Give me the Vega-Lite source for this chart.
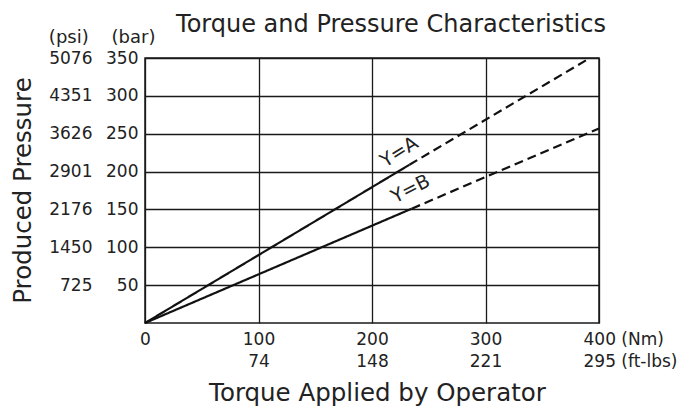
{
  "$schema": "https://vega.github.io/schema/vega-lite/v6.json",
  "autosize": "none",
  "width": 454,
  "height": 265,
  "padding": {"left": 145, "top": 58, "right": 89, "bottom": 87},
  "background": "white",
  "config": {
    "font": "DejaVu Sans",
    "view": {"stroke": "#1a1a1a", "strokeWidth": 1.5}
  },
  "title": {
    "text": "Torque and Pressure Characteristics",
    "fontSize": 24,
    "font": "DejaVu Sans",
    "fontWeight": "normal",
    "color": "#222222",
    "anchor": "middle",
    "frame": "group",
    "baseline": "alphabetic",
    "dx": 19,
    "offset": -24,
    "dy": 4
  },
  "datasets": {
    "lines": [
      {"series": "A", "segment": "measured", "torque": 0, "pressure": 0},
      {"series": "A", "segment": "measured", "torque": 233, "pressure": 209},
      {"series": "A", "segment": "extrapolated", "torque": 233, "pressure": 209},
      {"series": "A", "segment": "extrapolated", "torque": 392, "pressure": 350},
      {"series": "B", "segment": "measured", "torque": 0, "pressure": 0},
      {"series": "B", "segment": "measured", "torque": 235, "pressure": 151},
      {"series": "B", "segment": "extrapolated", "torque": 235, "pressure": 151},
      {"series": "B", "segment": "extrapolated", "torque": 400, "pressure": 257}
    ],
    "labels": [
      {"label": "Y=A", "torque": 224, "pressure": 226},
      {"label": "Y=B", "torque": 234, "pressure": 177}
    ]
  },
  "layer": [
    {
      "data": {"name": "lines"},
      "mark": {"type": "line", "color": "#111111", "strokeWidth": 2.2},
      "encoding": {
        "x": {
          "field": "torque",
          "type": "quantitative",
          "scale": {"domain": [0, 400], "nice": false},
          "axis": {
            "values": [0, 100, 200, 300, 400],
            "title": "Torque Applied by Operator",
            "titleFontSize": 24.5,
            "titleFontWeight": "normal",
            "titleColor": "#222222",
            "titleX": 232,
            "titleY": 70,
            "titleBaseline": "middle",
            "titleAlign": "center",
            "labelExpr": "datum.value==0?'0':datum.value==100?['100','74']:datum.value==200?['200','148']:datum.value==300?['300','221']:['400 (Nm)','295 (ft-lbs)']",
            "labelFontSize": 17,
            "labelColor": "#222222",
            "labelPadding": 8,
            "labelFlush": false,
            "labelOverlap": false,
            "labelBound": false,
            "labelLineHeight": 22,
            "labelAlign": {"condition": {"test": "datum.value==400", "value": "left"}, "value": "center"},
            "labelOffset": {"condition": {"test": "datum.value==400", "value": -16}, "value": 0},
            "ticks": false,
            "domain": false,
            "grid": true,
            "gridColor": "#1a1a1a",
            "gridWidth": 1.3,
            "gridOpacity": 1
          }
        },
        "y": {
          "field": "pressure",
          "type": "quantitative",
          "scale": {"domain": [0, 350], "nice": false},
          "axis": {
            "orient": "left",
            "values": [50, 100, 150, 200, 250, 300, 350],
            "title": "(psi)\u00a0\u00a0\u00a0\u00a0(bar)",
            "titleAngle": 0,
            "titleAlign": "right",
            "titleBaseline": "alphabetic",
            "titleX": 10,
            "titleY": -16,
            "titleFontSize": 18,
            "titleFontWeight": "normal",
            "titleColor": "#222222",
            "labelFontSize": 17,
            "labelColor": "#222222",
            "labelPadding": 7,
            "labelOverlap": false,
            "ticks": false,
            "domain": false,
            "grid": true,
            "gridColor": "#1a1a1a",
            "gridWidth": 1.3,
            "gridOpacity": 1
          }
        },
        "detail": {"field": "series"},
        "strokeDash": {
          "field": "segment",
          "type": "nominal",
          "scale": {"domain": ["measured", "extrapolated"], "range": [[1, 0], [9, 5]]},
          "legend": null
        }
      }
    },
    {
      "data": {"name": "labels"},
      "transform": [{"filter": "datum.label == 'Y=A'"}],
      "mark": {"type": "text", "fontSize": 19, "angle": 328, "align": "center", "baseline": "middle", "color": "#222222"},
      "encoding": {
        "x": {"field": "torque", "type": "quantitative"},
        "y": {
          "field": "pressure",
          "type": "quantitative",
          "scale": {"domain": [0, 350], "nice": false},
          "axis": {
            "orient": "left",
            "values": [50, 100, 150, 200, 250, 300, 350],
            "labelExpr": "datum.value==50?'725':datum.value==100?'1450':datum.value==150?'2176':datum.value==200?'2901':datum.value==250?'3626':datum.value==300?'4351':'5076'",
            "labelFontSize": 17,
            "labelColor": "#222222",
            "labelPadding": 53,
            "labelOverlap": false,
            "ticks": false,
            "domain": false,
            "grid": false,
            "title": "Produced Pressure",
            "titleFontSize": 24.5,
            "titleFontWeight": "normal",
            "titleColor": "#222222",
            "titleAngle": 270,
            "titleAlign": "center",
            "titleBaseline": "middle",
            "titleX": -122,
            "titleY": 132
          }
        },
        "text": {"field": "label"}
      }
    },
    {
      "data": {"name": "labels"},
      "transform": [{"filter": "datum.label == 'Y=B'"}],
      "mark": {"type": "text", "fontSize": 19, "angle": 333, "align": "center", "baseline": "middle", "color": "#222222"},
      "encoding": {
        "x": {"field": "torque", "type": "quantitative"},
        "y": {
          "field": "pressure",
          "type": "quantitative",
          "scale": {"domain": [0, 350], "nice": false},
          "axis": null
        },
        "text": {"field": "label"}
      }
    }
  ],
  "resolve": {"scale": {"y": "independent"}}
}
